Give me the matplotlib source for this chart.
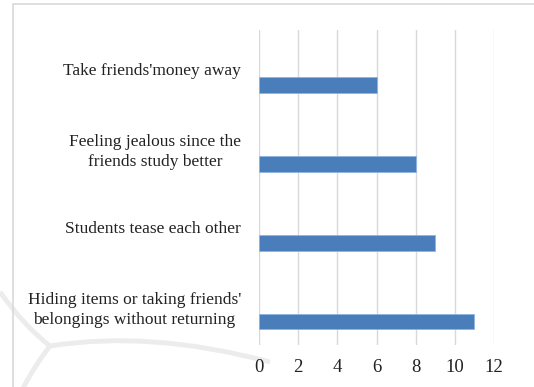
"""Bullying behaviours among students - horizontal bar chart."""

import matplotlib.pyplot as plt
from matplotlib.patches import PathPatch, Rectangle
from matplotlib.path import Path

categories = [
    "Hiding items or taking friends'\nbelongings without returning",
    "Students tease each other",
    "Feeling jealous since the\nfriends study better",
    "Take friends'money away",
]
counts = [11, 9, 8, 6]
xticks = [0, 2, 4, 6, 8, 10, 12]

plt.rcParams["font.family"] = ["Liberation Serif", "DejaVu Serif"]

W, H = 534, 387
fig = plt.figure(figsize=(W / 100, H / 100), dpi=100)


def px(x, y):
    return (x / W, 1 - y / H)


# faint watermark strokes in the lower left
for pts in [
    [(0, 292), (25, 327), (50, 346)],
    [(50, 346), (150, 330), (270, 362)],
    [(50, 346), (35, 365), (22, 390)],
]:
    path = Path([px(*p) for p in pts], [Path.MOVETO, Path.CURVE3, Path.CURVE3])
    fig.add_artist(PathPatch(path, transform=fig.transFigure, fill=False,
                             edgecolor="#ececec", lw=3.5, zorder=0))

# chart frame
fig.add_artist(Rectangle(px(13, H + 5), 1.0, (H + 1) / H, transform=fig.transFigure,
                         fill=False, edgecolor="#d9d9d9", lw=1.2, zorder=1))

ax = fig.add_axes([259 / W, 1 - 345 / H, 235 / W, 315 / H])
ax.patch.set_alpha(0)

ypos = list(range(len(categories)))
ax.barh([y - 0.2 for y in ypos], counts, height=0.2, color="#4a7ebb",
        edgecolor="#8eb4e3", linewidth=0.6, zorder=3)

ax.set_xlim(0, 12)
ax.set_ylim(-0.5, 3.5)
ax.set_xticks(xticks)
ax.set_yticks(ypos)
ax.set_yticklabels(categories, multialignment="center", linespacing=1.35)
ax.tick_params(axis="both", length=0, colors="#222222")
ax.tick_params(axis="y", pad=13, labelsize=12.5)
ax.tick_params(axis="x", pad=10, labelsize=13.5)
ax.grid(axis="x", color="#d9d9d9", linewidth=1, zorder=0)
for s in ax.spines.values():
    s.set_visible(False)

fig.savefig("out.png", dpi=100)
